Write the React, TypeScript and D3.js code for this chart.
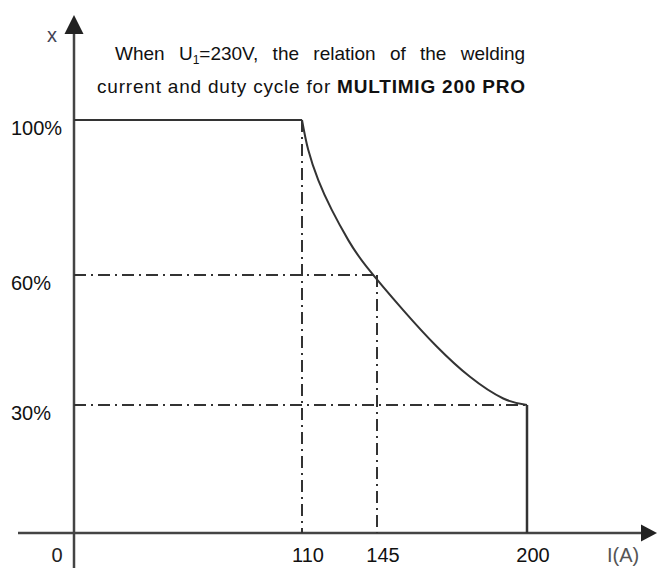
import React from "react";
import * as d3 from "d3";

const width = 657;
const height = 568;

// duty cycle curve (current in A, duty cycle in %)
const current = [110, 112.9, 117.6, 123.9, 131.6, 140.2, 154.6, 166.9, 179.1, 191.3, 200];
const duty = [100, 92.3, 84.5, 76.8, 69.0, 62.1, 51.9, 43.5, 36.5, 31.5, 30];

const xTicks = [110, 145, 200];
const xTickLabels = ["110", "145", "200"];
const yTicks = [100, 60, 30];
const yTickLabels = ["100%", "60%", "30%"];

// the drawing is schematic, so the axes are piecewise
const x = d3.scaleLinear().domain([0, 110, 145, 200]).range([74, 302, 377, 527]);
const y = d3.scaleLinear().domain([0, 30, 60, 100]).range([533, 405, 275, 120]);

const font = "'Liberation Sans', Arial, sans-serif";
const ink = "#333";

export default function App() {
  const pts: [number, number][] = current.map((c, i) => [c, duty[i]]);
  const curve = d3
    .line<[number, number]>()
    .x((d) => x(d[0]))
    .y((d) => y(d[1]))
    .curve(d3.curveNatural)(pts);

  const x0 = x(0);
  const y0 = y(0);
  const dash = "12 5 2 5";

  return (
    <svg
      width={width}
      height={height}
      style={{ position: "absolute", left: 0, top: 0, background: "#fff" }}
      fontFamily={font}
    >
      {/* axes */}
      <line x1={x0} x2={x0} y1={30} y2={height} stroke="#444" strokeWidth={2.5} />
      <path d={`M${x0},15 L${x0 - 9.5},34 L${x0 + 9.5},34 Z`} fill="#222" />
      <line x1={18} x2={645} y1={y0} y2={y0} stroke="#444" strokeWidth={2.5} />
      <path d={`M657,${y0} L641,${y0 - 8.5} L641,${y0 + 8.5} Z`} fill="#222" />

      {/* dash-dot guides */}
      <line x1={x(110)} x2={x(110)} y1={y(100)} y2={y0} stroke={ink} strokeWidth={2} strokeDasharray={dash} />
      <line x1={x0} x2={x(145)} y1={y(60)} y2={y(60)} stroke={ink} strokeWidth={2} strokeDasharray={dash} />
      <line x1={x(145)} x2={x(145)} y1={y(60)} y2={y0} stroke={ink} strokeWidth={2} strokeDasharray={dash} />
      <line x1={x0} x2={x(200)} y1={y(30)} y2={y(30)} stroke={ink} strokeWidth={2} strokeDasharray={dash} />

      {/* duty cycle line */}
      <line x1={x0} x2={x(110)} y1={y(100)} y2={y(100)} stroke={ink} strokeWidth={2} />
      <path d={curve ?? ""} fill="none" stroke={ink} strokeWidth={2} />
      <line x1={x(200)} x2={x(200)} y1={y(30)} y2={y0} stroke={ink} strokeWidth={2.5} />

      {/* tick labels */}
      {yTicks.map((t, i) => (
        <text key={t} x={11} y={y(t) + 15} fontSize={20} fill="#111">
          {yTickLabels[i]}
        </text>
      ))}
      {xTicks.map((t, i) => (
        <text key={t} x={x(t) + 6} y={562} fontSize={20} fill="#111" textAnchor="middle">
          {xTickLabels[i]}
        </text>
      ))}
      <text x={57} y={562} fontSize={20} fill="#222" textAnchor="middle">0</text>
      <text x={607} y={562} fontSize={20} fill="#555">I(A)</text>
      <text x={47} y={42} fontSize={20} fill="#445">x</text>

      {/* title */}
      <text x={115} y={60} fontSize={19} fill="#111" wordSpacing={9}>
        When U<tspan fontSize={12} dy={4}>1</tspan>
        <tspan dy={-4}>=230V, the relation of the welding</tspan>
      </text>
      <text x={97} y={93} fontSize={19} fill="#111" textLength={428} lengthAdjust="spacing">
        current and duty cycle for <tspan fontWeight="bold">MULTIMIG 200 PRO</tspan>
      </text>
    </svg>
  );
}
